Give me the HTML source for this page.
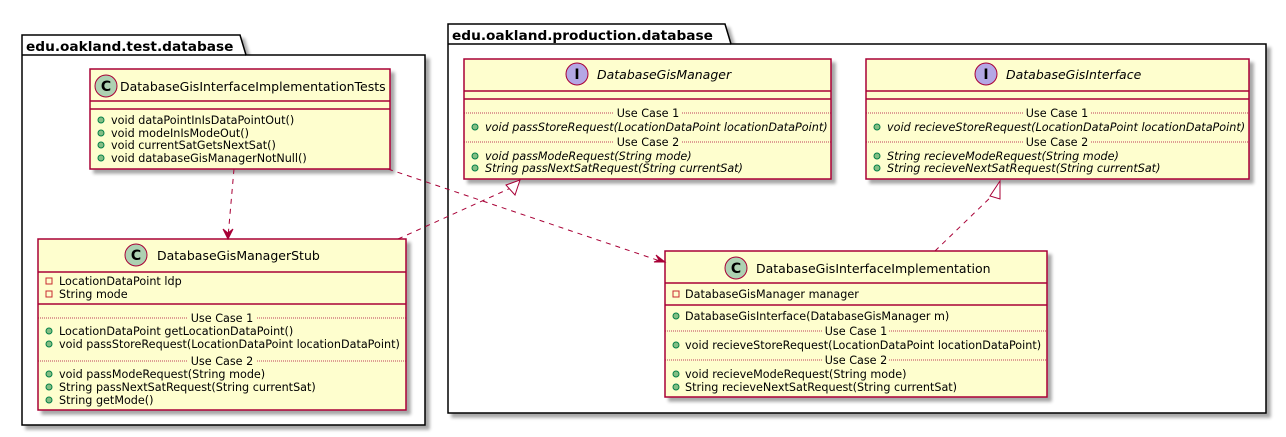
<!DOCTYPE html>
<html><head><meta charset="utf-8"><style>
html,body{margin:0;padding:0;background:#fff;}
svg{display:block;font-family:"DejaVu Sans","Liberation Sans",sans-serif;}
.m{font-size:11.2px;fill:#000;}
.i{font-style:italic;}
.t{font-size:12.5px;}
.pk{font-size:13.7px;font-weight:bold;}
</style></head><body>
<svg width="1286" height="437" viewBox="0 0 1286 437" xmlns="http://www.w3.org/2000/svg">
<defs>
<filter id="sh" x="-5%" y="-5%" width="115%" height="125%"><feGaussianBlur in="SourceAlpha" stdDeviation="1.5"/><feOffset dx="4" dy="4"/><feComponentTransfer><feFuncA type="linear" slope="0.35"/></feComponentTransfer><feMerge><feMergeNode/><feMergeNode in="SourceGraphic"/></feMerge></filter>
</defs>

<g filter="url(#sh)" stroke="#000" stroke-width="1.5" fill="#fff">
<path d="M22,35 L240,35 L246,55 L425,55 L425,425 L22,425 Z"/>
<line x1="22" y1="55" x2="246" y2="55"/>
<path d="M448,24 L725,24 L731,44 L1266,44 L1266,413 L448,413 Z"/>
<line x1="448" y1="44" x2="731" y2="44"/>
</g>
<text x="26" y="51" class="pk">edu.oakland.test.database</text>
<text x="452" y="40" class="pk">edu.oakland.production.database</text>

<g filter="url(#sh)" fill="#FEFECE" stroke="#A80036" stroke-width="1.5">
<rect x="90" y="69" width="300" height="100"/>
<rect x="38" y="239" width="368" height="171"/>
<rect x="464" y="59" width="367" height="120"/>
<rect x="866" y="59" width="383" height="120"/>
<rect x="665" y="251" width="382" height="146"/>
</g>
<g stroke="#A80036" stroke-width="1.5">
<line x1="90" y1="101" x2="390" y2="101"/><line x1="90" y1="109" x2="390" y2="109"/>
<line x1="38" y1="272" x2="406" y2="272"/><line x1="38" y1="304" x2="406" y2="304"/>
<line x1="464" y1="91" x2="831" y2="91"/><line x1="464" y1="99" x2="831" y2="99"/>
<line x1="866" y1="91" x2="1249" y2="91"/><line x1="866" y1="99" x2="1249" y2="99"/>
<line x1="665" y1="283" x2="1047" y2="283"/><line x1="665" y1="305" x2="1047" y2="305"/>
</g>
<g stroke="#A80036" stroke-width="0.8" stroke-dasharray="1,1">
<line x1="38" y1="318" x2="188" y2="318"/><line x1="257" y1="318" x2="406" y2="318"/>
<line x1="38" y1="361" x2="188" y2="361"/><line x1="257" y1="361" x2="406" y2="361"/>
<line x1="464" y1="113" x2="614" y2="113"/><line x1="682" y1="113" x2="831" y2="113"/>
<line x1="464" y1="142" x2="614" y2="142"/><line x1="682" y1="142" x2="831" y2="142"/>
<line x1="866" y1="113" x2="1024" y2="113"/><line x1="1091" y1="113" x2="1249" y2="113"/>
<line x1="866" y1="142" x2="1024" y2="142"/><line x1="1091" y1="142" x2="1249" y2="142"/>
<line x1="665" y1="331" x2="822" y2="331"/><line x1="889" y1="331" x2="1047" y2="331"/>
<line x1="665" y1="360" x2="822" y2="360"/><line x1="889" y1="360" x2="1047" y2="360"/>
</g>

<g stroke="#A80036" stroke-width="1">
<circle cx="106" cy="86" r="11" fill="#ADD1B2"/>
<circle cx="136" cy="255" r="11" fill="#ADD1B2"/>
<circle cx="577" cy="74" r="11" fill="#B4A7E5"/>
<circle cx="986" cy="74" r="11" fill="#B4A7E5"/>
<circle cx="736" cy="268" r="11" fill="#ADD1B2"/>
</g>
<g font-weight="bold" font-size="14" text-anchor="middle">
<text x="106" y="91">C</text><text x="136" y="260">C</text>
<text x="577" y="79">I</text><text x="986" y="79">I</text>
<text x="736" y="273">C</text>
</g>

<text x="120" y="91" class="t">DatabaseGisInterfaceImplementationTests</text>
<text x="157" y="260" class="t">DatabaseGisManagerStub</text>
<text x="597" y="79" class="t i">DatabaseGisManager</text>
<text x="1006" y="79" class="t i">DatabaseGisInterface</text>
<text x="756" y="273" class="t">DatabaseGisInterfaceImplementation</text>

<g fill="#84BE84" stroke="#038048" stroke-width="1">
<circle cx="101" cy="120" r="3"/><circle cx="101" cy="133" r="3"/><circle cx="101" cy="145" r="3"/><circle cx="101" cy="158" r="3"/>
<circle cx="49" cy="331" r="3"/><circle cx="49" cy="344" r="3"/><circle cx="49" cy="374" r="3"/><circle cx="49" cy="387" r="3"/><circle cx="49" cy="400" r="3"/>
<circle cx="475" cy="127" r="3"/><circle cx="475" cy="156" r="3"/><circle cx="475" cy="168" r="3"/>
<circle cx="877" cy="127" r="3"/><circle cx="877" cy="156" r="3"/><circle cx="877" cy="168" r="3"/>
<circle cx="676" cy="316" r="3"/><circle cx="676" cy="345" r="3"/><circle cx="676" cy="374" r="3"/><circle cx="676" cy="387" r="3"/>
</g>
<g fill="none" stroke="#C82930" stroke-width="1">
<rect x="46" y="278" width="6" height="6"/><rect x="46" y="291" width="6" height="6"/>
<rect x="673" y="291" width="6" height="6"/>
</g>

<g>
<text x="111" y="124" class="m">void dataPointInIsDataPointOut()</text>
<text x="111" y="137" class="m">void modeInIsModeOut()</text>
<text x="111" y="149" class="m">void currentSatGetsNextSat()</text>
<text x="111" y="162" class="m">void databaseGisManagerNotNull()</text>

<text x="59" y="285" class="m">LocationDataPoint ldp</text>
<text x="59" y="298" class="m">String mode</text>
<text x="222" y="322" class="m" text-anchor="middle">Use Case 1</text>
<text x="59" y="335" class="m">LocationDataPoint getLocationDataPoint()</text>
<text x="59" y="348" class="m">void passStoreRequest(LocationDataPoint locationDataPoint)</text>
<text x="222" y="365" class="m" text-anchor="middle">Use Case 2</text>
<text x="59" y="378" class="m">void passModeRequest(String mode)</text>
<text x="59" y="391" class="m">String passNextSatRequest(String currentSat)</text>
<text x="59" y="404" class="m">String getMode()</text>

<text x="648" y="117" class="m" text-anchor="middle">Use Case 1</text>
<text x="485" y="131" class="m i">void passStoreRequest(LocationDataPoint locationDataPoint)</text>
<text x="648" y="146" class="m" text-anchor="middle">Use Case 2</text>
<text x="485" y="160" class="m i">void passModeRequest(String mode)</text>
<text x="485" y="172" class="m i">String passNextSatRequest(String currentSat)</text>

<text x="1057" y="117" class="m" text-anchor="middle">Use Case 1</text>
<text x="887" y="131" class="m i">void recieveStoreRequest(LocationDataPoint locationDataPoint)</text>
<text x="1057" y="146" class="m" text-anchor="middle">Use Case 2</text>
<text x="887" y="160" class="m i">String recieveModeRequest(String mode)</text>
<text x="887" y="172" class="m i">String recieveNextSatRequest(String currentSat)</text>

<text x="685" y="298" class="m">DatabaseGisManager manager</text>
<text x="685" y="320" class="m">DatabaseGisInterface(DatabaseGisManager m)</text>
<text x="856" y="335" class="m" text-anchor="middle">Use Case 1</text>
<text x="685" y="349" class="m">void recieveStoreRequest(LocationDataPoint locationDataPoint)</text>
<text x="856" y="364" class="m" text-anchor="middle">Use Case 2</text>
<text x="685" y="378" class="m">void recieveModeRequest(String mode)</text>
<text x="685" y="391" class="m">String recieveNextSatRequest(String currentSat)</text>
</g>

<g stroke="#A80036" stroke-width="1" fill="none" stroke-dasharray="5,5">
<path d="M234,169 L228,237"/>
<path d="M388,169 L663,262"/>
<path d="M398,239 L513,187"/>
<path d="M935,251 L995,193"/>
</g>
<g stroke="#A80036" stroke-width="1" fill="#A80036">
<path d="M228,239 L223,229 L228,233 L233,229 Z"/>
<path d="M665,262 L654,262 L659,260 L656,255 Z"/>
</g>
<g stroke="#A80036" stroke-width="1" fill="#fff">
<path d="M520,180 L506,185 L515,195 Z"/>
<path d="M1000,181 L990,196 L1000,199 Z"/>
</g>
</svg>
</body></html>
